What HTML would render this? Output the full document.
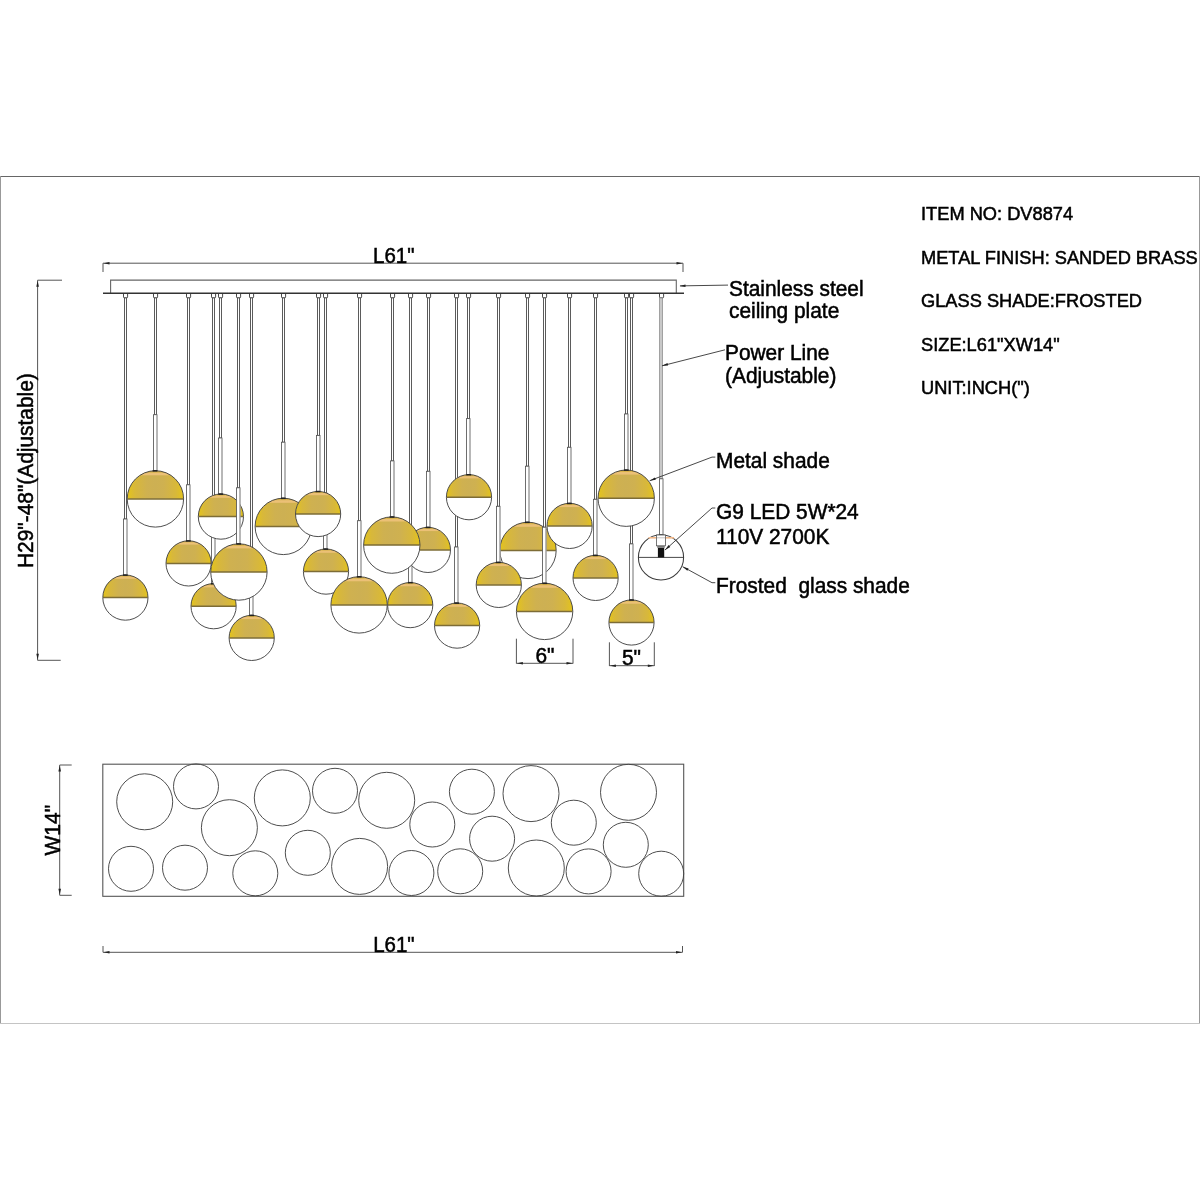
<!DOCTYPE html>
<html><head><meta charset="utf-8"><title>DV8874</title>
<style>
html,body{margin:0;padding:0;background:#fff;}
body{width:1200px;height:1200px;overflow:hidden;}
svg{display:block;will-change:transform;}
text{font-family:"Liberation Sans", sans-serif;fill:#000;stroke:#000;stroke-width:0.5px;}
.cn{fill:#fff;stroke:#333;stroke-width:0.9;}
.cd{fill:#fff;stroke:#4a4a4a;stroke-width:0.9;}
.cdx{fill:#ccc;stroke:#777;stroke-width:0.7;}
.sl{fill:#fff;stroke:#555;stroke-width:0.85;}
.slh{stroke:#b8b8b8;stroke-width:1.0;}
.go{fill:none;stroke:#444;stroke-width:0.95;}
.gw{fill:#fff;stroke:#3a3a3a;stroke-width:1.05;}
.eq{stroke:#7d6c36;stroke-width:1.5;}
.eqx{stroke:#333;stroke-width:0.9;}
.dl{stroke:#555;stroke-width:1;fill:none;}
.bd{stroke:#777;stroke-width:1.3;fill:none;}
.pc{fill:none;stroke:#444;stroke-width:0.95;}
.ld{stroke:#333;stroke-width:0.9;fill:none;}
</style></head><body>
<svg width="1200" height="1200" viewBox="0 0 1200 1200">
<defs>
<linearGradient id="gold" x1="0" y1="0" x2="1" y2="0">
<stop offset="0" stop-color="#e4c41a"/>
<stop offset="0.14" stop-color="#d8b83a"/>
<stop offset="0.35" stop-color="#cfb150"/>
<stop offset="0.5" stop-color="#cdb053"/>
<stop offset="0.65" stop-color="#cfb150"/>
<stop offset="0.86" stop-color="#d8b83a"/>
<stop offset="1" stop-color="#e4c41a"/>
</linearGradient>
</defs>
<rect x="0" y="0" width="1200" height="1200" fill="#fff"/>
<!-- border -->
<rect x="0" y="176" width="1200" height="1" fill="#666"/>
<rect x="0" y="176" width="1" height="848" fill="#999"/>
<rect x="1199" y="176" width="1" height="848" fill="#999"/>
<rect x="0" y="1023" width="1200" height="1" fill="#c4c4c4"/>

<line x1="103" y1="263.2" x2="683" y2="263.2" class="dl"/>
<line x1="103" y1="263.2" x2="103" y2="272" class="dl"/>
<line x1="683" y1="263.2" x2="683" y2="272" class="dl"/>
<path d="M103.5 263.2 L109.5 261.9 L109.5 264.5Z" fill="#222"/>
<path d="M682.5 263.2 L676.5 264.5 L676.5 261.9Z" fill="#222"/>
<text transform="translate(373 262.6) scale(1 1.05)" font-size="20.5">L61"</text>
<path d="M110.6 293.3 V280.1 H676.3 V293.3" fill="#fff" stroke="#666" stroke-width="1.1"/>
<path d="M123.5 293.3 V296.9 Q123.5 297.9 124.5 297.9 H126.6 Q127.6 297.9 127.6 296.9 V293.3" class="cn"/>
<rect x="124.5" y="297.9" width="2" height="221.1" class="cd"/>
<rect x="123.5" y="519.0" width="3.5" height="56.0" class="sl"/>
<line x1="127.0" y1="519.6" x2="127.0" y2="575.0" class="slh"/>
<clipPath id="cA"><circle cx="125.4" cy="597.6" r="22.6"/></clipPath>
<circle cx="125.4" cy="597.6" r="22.6" fill="#fff"/>
<g clip-path="url(#cA)">
<rect x="102.8" y="575.0" width="45.2" height="22.6" fill="url(#gold)"/>
<rect x="102.8" y="575.0" width="45.2" height="1.6" fill="#dcb448"/>
<rect x="102.8" y="576.6" width="45.2" height="2.2" fill="#eec27a" opacity="0.9"/>
</g>
<line x1="103.1" y1="597.6" x2="147.7" y2="597.6" class="eq"/>
<circle cx="125.4" cy="597.6" r="22.6" class="go"/>
<rect x="122.9" y="574.4" width="4.8" height="1.5" fill="#222"/>
<path d="M153.5 293.3 V296.9 Q153.5 297.9 154.5 297.9 H156.6 Q157.6 297.9 157.6 296.9 V293.3" class="cn"/>
<rect x="154.5" y="297.9" width="2" height="116.8" class="cd"/>
<rect x="153.5" y="414.7" width="3.5" height="56.0" class="sl"/>
<line x1="157.0" y1="415.3" x2="157.0" y2="470.7" class="slh"/>
<clipPath id="cB"><circle cx="155.4" cy="498.9" r="28.2"/></clipPath>
<circle cx="155.4" cy="498.9" r="28.2" fill="#fff"/>
<g clip-path="url(#cB)">
<rect x="127.2" y="470.7" width="56.4" height="28.2" fill="url(#gold)"/>
<rect x="127.2" y="470.7" width="56.4" height="2.0" fill="#dcb448"/>
<rect x="127.2" y="472.7" width="56.4" height="2.6" fill="#eec27a" opacity="0.9"/>
</g>
<line x1="127.5" y1="498.9" x2="183.3" y2="498.9" class="eq"/>
<circle cx="155.4" cy="498.9" r="28.2" class="go"/>
<rect x="152.6" y="470.1" width="4.8" height="1.5" fill="#222"/>
<path d="M186.5 293.3 V296.9 Q186.5 297.9 187.5 297.9 H189.6 Q190.6 297.9 190.6 296.9 V293.3" class="cn"/>
<rect x="187.5" y="297.9" width="2" height="186.9" class="cd"/>
<rect x="186.5" y="484.8" width="3.5" height="56.0" class="sl"/>
<line x1="190.0" y1="485.4" x2="190.0" y2="540.8" class="slh"/>
<clipPath id="cC"><circle cx="188.6" cy="563.4" r="22.6"/></clipPath>
<circle cx="188.6" cy="563.4" r="22.6" fill="#fff"/>
<g clip-path="url(#cC)">
<rect x="166.0" y="540.8" width="45.2" height="22.6" fill="url(#gold)"/>
<rect x="166.0" y="540.8" width="45.2" height="1.6" fill="#dcb448"/>
<rect x="166.0" y="542.4" width="45.2" height="2.2" fill="#eec27a" opacity="0.9"/>
</g>
<line x1="166.3" y1="563.4" x2="210.9" y2="563.4" class="eq"/>
<circle cx="188.6" cy="563.4" r="22.6" class="go"/>
<rect x="185.9" y="540.2" width="4.8" height="1.5" fill="#222"/>
<path d="M211.5 293.3 V296.9 Q211.5 297.9 212.5 297.9 H214.6 Q215.6 297.9 215.6 296.9 V293.3" class="cn"/>
<rect x="212.5" y="297.9" width="2" height="229.7" class="cd"/>
<rect x="211.5" y="527.6" width="3.5" height="56.0" class="sl"/>
<line x1="215.0" y1="528.2" x2="215.0" y2="583.6" class="slh"/>
<clipPath id="cF"><circle cx="213.6" cy="606.2" r="22.6"/></clipPath>
<circle cx="213.6" cy="606.2" r="22.6" fill="#fff"/>
<g clip-path="url(#cF)">
<rect x="191.0" y="583.6" width="45.2" height="22.6" fill="url(#gold)"/>
<rect x="191.0" y="583.6" width="45.2" height="1.6" fill="#dcb448"/>
<rect x="191.0" y="585.2" width="45.2" height="2.2" fill="#eec27a" opacity="0.9"/>
</g>
<line x1="191.3" y1="606.2" x2="235.9" y2="606.2" class="eq"/>
<circle cx="213.6" cy="606.2" r="22.6" class="go"/>
<rect x="210.9" y="583.0" width="4.8" height="1.5" fill="#222"/>
<path d="M218.5 293.3 V296.9 Q218.5 297.9 219.5 297.9 H221.6 Q222.6 297.9 222.6 296.9 V293.3" class="cn"/>
<rect x="219.5" y="297.9" width="2" height="140.1" class="cd"/>
<rect x="218.5" y="438.0" width="3.5" height="56.0" class="sl"/>
<line x1="222.0" y1="438.6" x2="222.0" y2="494.0" class="slh"/>
<clipPath id="cD"><circle cx="220.9" cy="516.6" r="22.6"/></clipPath>
<circle cx="220.9" cy="516.6" r="22.6" fill="#fff"/>
<g clip-path="url(#cD)">
<rect x="198.3" y="494.0" width="45.2" height="22.6" fill="url(#gold)"/>
<rect x="198.3" y="494.0" width="45.2" height="1.6" fill="#dcb448"/>
<rect x="198.3" y="495.6" width="45.2" height="2.2" fill="#eec27a" opacity="0.9"/>
</g>
<line x1="198.6" y1="516.6" x2="243.2" y2="516.6" class="eq"/>
<circle cx="220.9" cy="516.6" r="22.6" class="go"/>
<rect x="218.4" y="493.4" width="4.8" height="1.5" fill="#222"/>
<path d="M249.5 293.3 V296.9 Q249.5 297.9 250.5 297.9 H252.6 Q253.6 297.9 253.6 296.9 V293.3" class="cn"/>
<rect x="250.5" y="297.9" width="2" height="261.4" class="cd"/>
<rect x="249.5" y="559.3" width="3.5" height="56.0" class="sl"/>
<line x1="253.0" y1="559.9" x2="253.0" y2="615.3" class="slh"/>
<clipPath id="cG"><circle cx="251.7" cy="637.9" r="22.6"/></clipPath>
<circle cx="251.7" cy="637.9" r="22.6" fill="#fff"/>
<g clip-path="url(#cG)">
<rect x="229.1" y="615.3" width="45.2" height="22.6" fill="url(#gold)"/>
<rect x="229.1" y="615.3" width="45.2" height="1.6" fill="#dcb448"/>
<rect x="229.1" y="616.9" width="45.2" height="2.2" fill="#eec27a" opacity="0.9"/>
</g>
<line x1="229.4" y1="637.9" x2="274.0" y2="637.9" class="eq"/>
<circle cx="251.7" cy="637.9" r="22.6" class="go"/>
<rect x="249.3" y="614.7" width="4.8" height="1.5" fill="#222"/>
<path d="M236.5 293.3 V296.9 Q236.5 297.9 237.5 297.9 H239.6 Q240.6 297.9 240.6 296.9 V293.3" class="cn"/>
<rect x="237.5" y="297.9" width="2" height="189.9" class="cd"/>
<rect x="236.5" y="487.8" width="3.5" height="56.0" class="sl"/>
<line x1="240.0" y1="488.4" x2="240.0" y2="543.8" class="slh"/>
<clipPath id="cE"><circle cx="238.9" cy="572.0" r="28.2"/></clipPath>
<circle cx="238.9" cy="572.0" r="28.2" fill="#fff"/>
<g clip-path="url(#cE)">
<rect x="210.7" y="543.8" width="56.4" height="28.2" fill="url(#gold)"/>
<rect x="210.7" y="543.8" width="56.4" height="2.0" fill="#dcb448"/>
<rect x="210.7" y="545.8" width="56.4" height="2.6" fill="#eec27a" opacity="0.9"/>
</g>
<line x1="211.0" y1="572.0" x2="266.8" y2="572.0" class="eq"/>
<circle cx="238.9" cy="572.0" r="28.2" class="go"/>
<rect x="236.3" y="543.2" width="4.8" height="1.5" fill="#222"/>
<path d="M281.5 293.3 V296.9 Q281.5 297.9 282.5 297.9 H284.6 Q285.6 297.9 285.6 296.9 V293.3" class="cn"/>
<rect x="282.5" y="297.9" width="2" height="144.3" class="cd"/>
<rect x="281.5" y="442.2" width="3.5" height="56.0" class="sl"/>
<line x1="285.0" y1="442.8" x2="285.0" y2="498.2" class="slh"/>
<clipPath id="cH"><circle cx="283.3" cy="526.4" r="28.2"/></clipPath>
<circle cx="283.3" cy="526.4" r="28.2" fill="#fff"/>
<g clip-path="url(#cH)">
<rect x="255.1" y="498.2" width="56.4" height="28.2" fill="url(#gold)"/>
<rect x="255.1" y="498.2" width="56.4" height="2.0" fill="#dcb448"/>
<rect x="255.1" y="500.2" width="56.4" height="2.6" fill="#eec27a" opacity="0.9"/>
</g>
<line x1="255.4" y1="526.4" x2="311.2" y2="526.4" class="eq"/>
<circle cx="283.3" cy="526.4" r="28.2" class="go"/>
<rect x="280.9" y="497.6" width="4.8" height="1.5" fill="#222"/>
<path d="M323.5 293.3 V296.9 Q323.5 297.9 324.5 297.9 H326.6 Q327.6 297.9 327.6 296.9 V293.3" class="cn"/>
<rect x="324.5" y="297.9" width="2" height="195.1" class="cd"/>
<rect x="323.5" y="493.0" width="3.5" height="56.0" class="sl"/>
<line x1="327.0" y1="493.6" x2="327.0" y2="549.0" class="slh"/>
<clipPath id="cJ"><circle cx="326.0" cy="571.6" r="22.6"/></clipPath>
<circle cx="326.0" cy="571.6" r="22.6" fill="#fff"/>
<g clip-path="url(#cJ)">
<rect x="303.4" y="549.0" width="45.2" height="22.6" fill="url(#gold)"/>
<rect x="303.4" y="549.0" width="45.2" height="1.6" fill="#dcb448"/>
<rect x="303.4" y="550.6" width="45.2" height="2.2" fill="#eec27a" opacity="0.9"/>
</g>
<line x1="303.7" y1="571.6" x2="348.3" y2="571.6" class="eq"/>
<circle cx="326.0" cy="571.6" r="22.6" class="go"/>
<rect x="323.4" y="548.4" width="4.8" height="1.5" fill="#222"/>
<path d="M316.5 293.3 V296.9 Q316.5 297.9 317.5 297.9 H319.6 Q320.6 297.9 320.6 296.9 V293.3" class="cn"/>
<rect x="317.5" y="297.9" width="2" height="137.5" class="cd"/>
<rect x="316.5" y="435.4" width="3.5" height="56.0" class="sl"/>
<line x1="320.0" y1="436.0" x2="320.0" y2="491.4" class="slh"/>
<clipPath id="cI"><circle cx="318.1" cy="514.0" r="22.6"/></clipPath>
<circle cx="318.1" cy="514.0" r="22.6" fill="#fff"/>
<g clip-path="url(#cI)">
<rect x="295.5" y="491.4" width="45.2" height="22.6" fill="url(#gold)"/>
<rect x="295.5" y="491.4" width="45.2" height="1.6" fill="#dcb448"/>
<rect x="295.5" y="493.0" width="45.2" height="2.2" fill="#eec27a" opacity="0.9"/>
</g>
<line x1="295.8" y1="514.0" x2="340.4" y2="514.0" class="eq"/>
<circle cx="318.1" cy="514.0" r="22.6" class="go"/>
<rect x="315.6" y="490.8" width="4.8" height="1.5" fill="#222"/>
<path d="M357.5 293.3 V296.9 Q357.5 297.9 358.5 297.9 H360.6 Q361.6 297.9 361.6 296.9 V293.3" class="cn"/>
<rect x="358.5" y="297.9" width="2" height="222.8" class="cd"/>
<rect x="357.5" y="520.7" width="3.5" height="56.0" class="sl"/>
<line x1="361.0" y1="521.3" x2="361.0" y2="576.7" class="slh"/>
<clipPath id="cK"><circle cx="359.1" cy="604.9" r="28.2"/></clipPath>
<circle cx="359.1" cy="604.9" r="28.2" fill="#fff"/>
<g clip-path="url(#cK)">
<rect x="330.9" y="576.7" width="56.4" height="28.2" fill="url(#gold)"/>
<rect x="330.9" y="576.7" width="56.4" height="2.0" fill="#dcb448"/>
<rect x="330.9" y="578.7" width="56.4" height="2.6" fill="#eec27a" opacity="0.9"/>
</g>
<line x1="331.2" y1="604.9" x2="387.0" y2="604.9" class="eq"/>
<circle cx="359.1" cy="604.9" r="28.2" class="go"/>
<rect x="356.8" y="576.1" width="4.8" height="1.5" fill="#222"/>
<path d="M408.5 293.3 V296.9 Q408.5 297.9 409.5 297.9 H411.6 Q412.6 297.9 412.6 296.9 V293.3" class="cn"/>
<rect x="409.5" y="297.9" width="2" height="228.6" class="cd"/>
<rect x="408.5" y="526.5" width="3.5" height="56.0" class="sl"/>
<line x1="412.0" y1="527.1" x2="412.0" y2="582.5" class="slh"/>
<clipPath id="cM"><circle cx="410.2" cy="605.1" r="22.6"/></clipPath>
<circle cx="410.2" cy="605.1" r="22.6" fill="#fff"/>
<g clip-path="url(#cM)">
<rect x="387.6" y="582.5" width="45.2" height="22.6" fill="url(#gold)"/>
<rect x="387.6" y="582.5" width="45.2" height="1.6" fill="#dcb448"/>
<rect x="387.6" y="584.1" width="45.2" height="2.2" fill="#eec27a" opacity="0.9"/>
</g>
<line x1="387.9" y1="605.1" x2="432.5" y2="605.1" class="eq"/>
<circle cx="410.2" cy="605.1" r="22.6" class="go"/>
<rect x="407.9" y="581.9" width="4.8" height="1.5" fill="#222"/>
<path d="M426.5 293.3 V296.9 Q426.5 297.9 427.5 297.9 H429.6 Q430.6 297.9 430.6 296.9 V293.3" class="cn"/>
<rect x="427.5" y="297.9" width="2" height="173.4" class="cd"/>
<rect x="426.5" y="471.3" width="3.5" height="56.0" class="sl"/>
<line x1="430.0" y1="471.9" x2="430.0" y2="527.3" class="slh"/>
<clipPath id="cN"><circle cx="427.9" cy="549.9" r="22.6"/></clipPath>
<circle cx="427.9" cy="549.9" r="22.6" fill="#fff"/>
<g clip-path="url(#cN)">
<rect x="405.3" y="527.3" width="45.2" height="22.6" fill="url(#gold)"/>
<rect x="405.3" y="527.3" width="45.2" height="1.6" fill="#dcb448"/>
<rect x="405.3" y="528.9" width="45.2" height="2.2" fill="#eec27a" opacity="0.9"/>
</g>
<line x1="405.6" y1="549.9" x2="450.2" y2="549.9" class="eq"/>
<circle cx="427.9" cy="549.9" r="22.6" class="go"/>
<rect x="425.6" y="526.7" width="4.8" height="1.5" fill="#222"/>
<path d="M390.5 293.3 V296.9 Q390.5 297.9 391.5 297.9 H393.6 Q394.6 297.9 394.6 296.9 V293.3" class="cn"/>
<rect x="391.5" y="297.9" width="2" height="163.0" class="cd"/>
<rect x="390.5" y="460.9" width="3.5" height="56.0" class="sl"/>
<line x1="394.0" y1="461.5" x2="394.0" y2="516.9" class="slh"/>
<clipPath id="cL"><circle cx="391.8" cy="545.1" r="28.2"/></clipPath>
<circle cx="391.8" cy="545.1" r="28.2" fill="#fff"/>
<g clip-path="url(#cL)">
<rect x="363.6" y="516.9" width="56.4" height="28.2" fill="url(#gold)"/>
<rect x="363.6" y="516.9" width="56.4" height="2.0" fill="#dcb448"/>
<rect x="363.6" y="518.9" width="56.4" height="2.6" fill="#eec27a" opacity="0.9"/>
</g>
<line x1="363.9" y1="545.1" x2="419.7" y2="545.1" class="eq"/>
<circle cx="391.8" cy="545.1" r="28.2" class="go"/>
<rect x="389.6" y="516.3" width="4.8" height="1.5" fill="#222"/>
<path d="M454.5 293.3 V296.9 Q454.5 297.9 455.5 297.9 H457.6 Q458.6 297.9 458.6 296.9 V293.3" class="cn"/>
<rect x="455.5" y="297.9" width="2" height="249.1" class="cd"/>
<rect x="454.5" y="547.0" width="3.5" height="56.0" class="sl"/>
<line x1="458.0" y1="547.6" x2="458.0" y2="603.0" class="slh"/>
<clipPath id="cO"><circle cx="457.1" cy="625.6" r="22.6"/></clipPath>
<circle cx="457.1" cy="625.6" r="22.6" fill="#fff"/>
<g clip-path="url(#cO)">
<rect x="434.5" y="603.0" width="45.2" height="22.6" fill="url(#gold)"/>
<rect x="434.5" y="603.0" width="45.2" height="1.6" fill="#dcb448"/>
<rect x="434.5" y="604.6" width="45.2" height="2.2" fill="#eec27a" opacity="0.9"/>
</g>
<line x1="434.8" y1="625.6" x2="479.4" y2="625.6" class="eq"/>
<circle cx="457.1" cy="625.6" r="22.6" class="go"/>
<rect x="454.3" y="602.4" width="4.8" height="1.5" fill="#222"/>
<path d="M466.5 293.3 V296.9 Q466.5 297.9 467.5 297.9 H469.6 Q470.6 297.9 470.6 296.9 V293.3" class="cn"/>
<rect x="467.5" y="297.9" width="2" height="120.7" class="cd"/>
<rect x="466.5" y="418.6" width="3.5" height="56.0" class="sl"/>
<line x1="470.0" y1="419.2" x2="470.0" y2="474.6" class="slh"/>
<clipPath id="cP"><circle cx="469.0" cy="497.2" r="22.6"/></clipPath>
<circle cx="469.0" cy="497.2" r="22.6" fill="#fff"/>
<g clip-path="url(#cP)">
<rect x="446.4" y="474.6" width="45.2" height="22.6" fill="url(#gold)"/>
<rect x="446.4" y="474.6" width="45.2" height="1.6" fill="#dcb448"/>
<rect x="446.4" y="476.2" width="45.2" height="2.2" fill="#eec27a" opacity="0.9"/>
</g>
<line x1="446.7" y1="497.2" x2="491.3" y2="497.2" class="eq"/>
<circle cx="469.0" cy="497.2" r="22.6" class="go"/>
<rect x="466.3" y="474.0" width="4.8" height="1.5" fill="#222"/>
<path d="M525.5 293.3 V296.9 Q525.5 297.9 526.5 297.9 H528.6 Q529.6 297.9 529.6 296.9 V293.3" class="cn"/>
<rect x="526.5" y="297.9" width="2" height="168.3" class="cd"/>
<rect x="525.5" y="466.2" width="3.5" height="56.0" class="sl"/>
<line x1="529.0" y1="466.8" x2="529.0" y2="522.2" class="slh"/>
<clipPath id="cR"><circle cx="528.0" cy="550.4" r="28.2"/></clipPath>
<circle cx="528.0" cy="550.4" r="28.2" fill="#fff"/>
<g clip-path="url(#cR)">
<rect x="499.8" y="522.2" width="56.4" height="28.2" fill="url(#gold)"/>
<rect x="499.8" y="522.2" width="56.4" height="2.0" fill="#dcb448"/>
<rect x="499.8" y="524.2" width="56.4" height="2.6" fill="#eec27a" opacity="0.9"/>
</g>
<line x1="500.1" y1="550.4" x2="555.9" y2="550.4" class="eq"/>
<circle cx="528.0" cy="550.4" r="28.2" class="go"/>
<rect x="524.9" y="521.6" width="4.8" height="1.5" fill="#222"/>
<path d="M496.5 293.3 V296.9 Q496.5 297.9 497.5 297.9 H499.6 Q500.6 297.9 500.6 296.9 V293.3" class="cn"/>
<rect x="497.5" y="297.9" width="2" height="208.4" class="cd"/>
<rect x="496.5" y="506.3" width="3.5" height="56.0" class="sl"/>
<line x1="500.0" y1="506.9" x2="500.0" y2="562.3" class="slh"/>
<clipPath id="cQ"><circle cx="498.8" cy="584.9" r="22.6"/></clipPath>
<circle cx="498.8" cy="584.9" r="22.6" fill="#fff"/>
<g clip-path="url(#cQ)">
<rect x="476.2" y="562.3" width="45.2" height="22.6" fill="url(#gold)"/>
<rect x="476.2" y="562.3" width="45.2" height="1.6" fill="#dcb448"/>
<rect x="476.2" y="563.9" width="45.2" height="2.2" fill="#eec27a" opacity="0.9"/>
</g>
<line x1="476.5" y1="584.9" x2="521.1" y2="584.9" class="eq"/>
<circle cx="498.8" cy="584.9" r="22.6" class="go"/>
<rect x="495.9" y="561.7" width="4.8" height="1.5" fill="#222"/>
<path d="M542.5 293.3 V296.9 Q542.5 297.9 543.5 297.9 H545.6 Q546.6 297.9 546.6 296.9 V293.3" class="cn"/>
<rect x="543.5" y="297.9" width="2" height="229.3" class="cd"/>
<rect x="542.5" y="527.2" width="3.5" height="56.0" class="sl"/>
<line x1="546.0" y1="527.8" x2="546.0" y2="583.2" class="slh"/>
<clipPath id="cS"><circle cx="544.6" cy="611.4" r="28.2"/></clipPath>
<circle cx="544.6" cy="611.4" r="28.2" fill="#fff"/>
<g clip-path="url(#cS)">
<rect x="516.4" y="583.2" width="56.4" height="28.2" fill="url(#gold)"/>
<rect x="516.4" y="583.2" width="56.4" height="2.0" fill="#dcb448"/>
<rect x="516.4" y="585.2" width="56.4" height="2.6" fill="#eec27a" opacity="0.9"/>
</g>
<line x1="516.7" y1="611.4" x2="572.5" y2="611.4" class="eq"/>
<circle cx="544.6" cy="611.4" r="28.2" class="go"/>
<rect x="542.4" y="582.6" width="4.8" height="1.5" fill="#222"/>
<path d="M567.5 293.3 V296.9 Q567.5 297.9 568.5 297.9 H570.6 Q571.6 297.9 571.6 296.9 V293.3" class="cn"/>
<rect x="568.5" y="297.9" width="2" height="149.4" class="cd"/>
<rect x="567.5" y="447.3" width="3.5" height="56.0" class="sl"/>
<line x1="571.0" y1="447.9" x2="571.0" y2="503.3" class="slh"/>
<clipPath id="cT"><circle cx="569.6" cy="525.9" r="22.6"/></clipPath>
<circle cx="569.6" cy="525.9" r="22.6" fill="#fff"/>
<g clip-path="url(#cT)">
<rect x="547.0" y="503.3" width="45.2" height="22.6" fill="url(#gold)"/>
<rect x="547.0" y="503.3" width="45.2" height="1.6" fill="#dcb448"/>
<rect x="547.0" y="504.9" width="45.2" height="2.2" fill="#eec27a" opacity="0.9"/>
</g>
<line x1="547.3" y1="525.9" x2="591.9" y2="525.9" class="eq"/>
<circle cx="569.6" cy="525.9" r="22.6" class="go"/>
<rect x="567.0" y="502.7" width="4.8" height="1.5" fill="#222"/>
<path d="M593.5 293.3 V296.9 Q593.5 297.9 594.5 297.9 H596.6 Q597.6 297.9 597.6 296.9 V293.3" class="cn"/>
<rect x="594.5" y="297.9" width="2" height="201.4" class="cd"/>
<rect x="593.5" y="499.3" width="3.5" height="56.0" class="sl"/>
<line x1="597.0" y1="499.9" x2="597.0" y2="555.3" class="slh"/>
<clipPath id="cU"><circle cx="595.6" cy="577.9" r="22.6"/></clipPath>
<circle cx="595.6" cy="577.9" r="22.6" fill="#fff"/>
<g clip-path="url(#cU)">
<rect x="573.0" y="555.3" width="45.2" height="22.6" fill="url(#gold)"/>
<rect x="573.0" y="555.3" width="45.2" height="1.6" fill="#dcb448"/>
<rect x="573.0" y="556.9" width="45.2" height="2.2" fill="#eec27a" opacity="0.9"/>
</g>
<line x1="573.3" y1="577.9" x2="617.9" y2="577.9" class="eq"/>
<circle cx="595.6" cy="577.9" r="22.6" class="go"/>
<rect x="593.0" y="554.7" width="4.8" height="1.5" fill="#222"/>
<path d="M629.5 293.3 V296.9 Q629.5 297.9 630.5 297.9 H632.6 Q633.6 297.9 633.6 296.9 V293.3" class="cn"/>
<rect x="630.5" y="297.9" width="2" height="246.0" class="cd"/>
<rect x="629.5" y="543.9" width="3.5" height="56.0" class="sl"/>
<line x1="633.0" y1="544.5" x2="633.0" y2="599.9" class="slh"/>
<clipPath id="cW"><circle cx="631.5" cy="622.5" r="22.6"/></clipPath>
<circle cx="631.5" cy="622.5" r="22.6" fill="#fff"/>
<g clip-path="url(#cW)">
<rect x="608.9" y="599.9" width="45.2" height="22.6" fill="url(#gold)"/>
<rect x="608.9" y="599.9" width="45.2" height="1.6" fill="#dcb448"/>
<rect x="608.9" y="601.5" width="45.2" height="2.2" fill="#eec27a" opacity="0.9"/>
</g>
<line x1="609.2" y1="622.5" x2="653.8" y2="622.5" class="eq"/>
<circle cx="631.5" cy="622.5" r="22.6" class="go"/>
<rect x="629.1" y="599.3" width="4.8" height="1.5" fill="#222"/>
<path d="M624.5 293.3 V296.9 Q624.5 297.9 625.5 297.9 H627.6 Q628.6 297.9 628.6 296.9 V293.3" class="cn"/>
<rect x="625.5" y="297.9" width="2" height="116.1" class="cd"/>
<rect x="624.5" y="414.0" width="3.5" height="56.0" class="sl"/>
<line x1="628.0" y1="414.6" x2="628.0" y2="470.0" class="slh"/>
<clipPath id="cV"><circle cx="626.2" cy="498.2" r="28.2"/></clipPath>
<circle cx="626.2" cy="498.2" r="28.2" fill="#fff"/>
<g clip-path="url(#cV)">
<rect x="598.0" y="470.0" width="56.4" height="28.2" fill="url(#gold)"/>
<rect x="598.0" y="470.0" width="56.4" height="2.0" fill="#dcb448"/>
<rect x="598.0" y="472.0" width="56.4" height="2.6" fill="#eec27a" opacity="0.9"/>
</g>
<line x1="598.3" y1="498.2" x2="654.1" y2="498.2" class="eq"/>
<circle cx="626.2" cy="498.2" r="28.2" class="go"/>
<rect x="623.9" y="469.4" width="4.8" height="1.5" fill="#222"/>
<path d="M659.5 293.3 V296.9 Q659.5 297.9 660.5 297.9 H662.6 Q663.6 297.9 663.6 296.9 V293.3" class="cn"/>
<rect x="659.7" y="297.9" width="2.6" height="180.9" class="cdx"/>
<rect x="659.5" y="478.8" width="3.5" height="56.0" class="sl"/>
<line x1="663.0" y1="479.4" x2="663.0" y2="534.8" class="slh"/>
<circle cx="661.0" cy="557.4" r="22.6" class="gw"/>
<line x1="638.4" y1="557.4" x2="683.6" y2="557.4" class="eqx"/>
<line x1="648.5" y1="537.8" x2="674.0" y2="537.8" stroke="#f3b98a" stroke-width="1.6"/>
<rect x="656.6" y="535.0" width="8.8" height="10.8" fill="#fff" stroke="#555" stroke-width="0.8"/>
<line x1="656.6" y1="537.8" x2="665.4" y2="537.8" stroke="#999" stroke-width="0.6"/>
<rect x="657.9" y="547.8" width="6.3" height="9.6" fill="#111"/>
<rect x="657.2" y="545.8" width="7.6" height="2" fill="#777"/>
<line x1="103" y1="293.3" x2="684" y2="293.3" stroke="#333" stroke-width="1.6"/>
<line x1="680" y1="285.9" x2="728" y2="285.1" class="ld"/>
<path d="M679.5 285.9 L685.5 284.5 L685.5 287.1Z" fill="#222"/>
<text transform="translate(729 295.8) scale(1 1.05)" font-size="20.9">Stainless steel</text>
<text transform="translate(729 318.3) scale(1 1.05)" font-size="20.9">ceiling plate</text>
<line x1="662" y1="365.8" x2="725" y2="349.8" class="ld"/>
<path d="M662.0 365.8 L667.5 363.1 L668.1 365.6Z" fill="#222"/>
<text transform="translate(725 360) scale(1 1.05)" font-size="20.9">Power Line</text>
<text transform="translate(725 383.3) scale(1 1.05)" font-size="20.9">(Adjustable)</text>
<path d="M649.7 480.7 L712 457.1 H715.3" class="ld"/>
<path d="M649.7 480.7 L654.9 477.4 L655.8 479.8Z" fill="#222"/>
<text transform="translate(716 467.9) scale(1 1.05)" font-size="20.9">Metal shade</text>
<path d="M665 550 L712 508 H715.3" class="ld"/>
<path d="M665.0 550.0 L668.6 545.0 L670.3 547.0Z" fill="#222"/>
<text transform="translate(716 518.5) scale(1 1.05)" font-size="20.9">G9 LED 5W*24</text>
<text transform="translate(716 543.6) scale(1 1.05)" font-size="20.9">110V 2700K</text>
<path d="M682.7 566.7 L712 582.7 H715.3" class="ld"/>
<path d="M682.7 566.7 L688.6 568.4 L687.3 570.7Z" fill="#222"/>
<text transform="translate(716 593.1) scale(1 1.05)" font-size="20.9" xml:space="preserve">Frosted  glass shade</text>
<text transform="translate(921 220.2) scale(1 1.05)" font-size="18.25">ITEM NO: DV8874</text>
<text transform="translate(921 263.7) scale(1 1.05)" font-size="18.25">METAL FINISH: SANDED BRASS</text>
<text transform="translate(921 307.2) scale(1 1.05)" font-size="18.25">GLASS SHADE:FROSTED</text>
<text transform="translate(921 350.7) scale(1 1.05)" font-size="18.25">SIZE:L61"XW14"</text>
<text transform="translate(921 394.2) scale(1 1.05)" font-size="18.25">UNIT:INCH(")</text>
<line x1="37.6" y1="280.2" x2="37.6" y2="660.3" class="dl"/>
<line x1="37.6" y1="280.2" x2="62" y2="280.2" class="dl"/>
<line x1="37.6" y1="660.3" x2="60.7" y2="660.3" class="dl"/>
<path d="M37.6 280.7 L38.9 286.7 L36.3 286.7Z" fill="#222"/>
<path d="M37.6 659.8 L36.3 653.8 L38.9 653.8Z" fill="#222"/>
<text transform="translate(33.2 568) rotate(-90) scale(1 1.05)" font-size="20.9">H29"-48"(Adjustable)</text>
<line x1="516.4" y1="638.7" x2="516.4" y2="663.6" class="dl"/>
<line x1="573" y1="638.7" x2="573" y2="663.6" class="dl"/>
<line x1="516.4" y1="663.3" x2="573" y2="663.3" class="dl"/>
<path d="M516.9 663.3 L522.9 662.0 L522.9 664.6Z" fill="#222"/>
<path d="M572.5 663.3 L566.5 664.6 L566.5 662.0Z" fill="#222"/>
<text transform="translate(535.5 662.7) scale(1 1.05)" font-size="20.9">6"</text>
<line x1="609.4" y1="642.3" x2="609.4" y2="666" class="dl"/>
<line x1="654.3" y1="642.3" x2="654.3" y2="666" class="dl"/>
<line x1="609.4" y1="665.7" x2="654.3" y2="665.7" class="dl"/>
<path d="M609.9 665.7 L615.9 664.4 L615.9 667.0Z" fill="#222"/>
<path d="M653.8 665.7 L647.8 667.0 L647.8 664.4Z" fill="#222"/>
<text transform="translate(622 665) scale(1 1.05)" font-size="20.9">5"</text>
<rect x="102.8" y="764.2" width="580.9" height="132.1" fill="none" stroke="#555" stroke-width="1.1"/>
<circle cx="144.7" cy="801.8" r="28" class="pc"/>
<circle cx="196.0" cy="786.4" r="22.5" class="pc"/>
<circle cx="229.4" cy="827.7" r="28" class="pc"/>
<circle cx="131.0" cy="868.8" r="22.5" class="pc"/>
<circle cx="185.0" cy="867.7" r="22.5" class="pc"/>
<circle cx="282.3" cy="797.9" r="28" class="pc"/>
<circle cx="255.3" cy="873.3" r="22.5" class="pc"/>
<circle cx="335.0" cy="790.8" r="22.5" class="pc"/>
<circle cx="307.8" cy="852.8" r="22.5" class="pc"/>
<circle cx="386.7" cy="800.3" r="28" class="pc"/>
<circle cx="359.6" cy="866.4" r="28" class="pc"/>
<circle cx="432.3" cy="824.5" r="22.5" class="pc"/>
<circle cx="411.4" cy="873.0" r="22.5" class="pc"/>
<circle cx="471.9" cy="791.7" r="22.5" class="pc"/>
<circle cx="460.2" cy="871.3" r="22.5" class="pc"/>
<circle cx="492.1" cy="838.7" r="22.5" class="pc"/>
<circle cx="531.0" cy="793.6" r="28" class="pc"/>
<circle cx="536.3" cy="868.0" r="28" class="pc"/>
<circle cx="573.8" cy="822.7" r="22.5" class="pc"/>
<circle cx="588.6" cy="871.4" r="22.5" class="pc"/>
<circle cx="628.5" cy="792.3" r="28" class="pc"/>
<circle cx="625.8" cy="844.8" r="22.5" class="pc"/>
<circle cx="661.2" cy="873.7" r="22.5" class="pc"/>
<line x1="59.7" y1="765" x2="59.7" y2="895.3" class="dl"/>
<line x1="59.7" y1="765" x2="71.7" y2="765" class="dl"/>
<line x1="59.7" y1="895.3" x2="71.7" y2="895.3" class="dl"/>
<path d="M59.7 765.5 L61.0 771.5 L58.4 771.5Z" fill="#222"/>
<path d="M59.7 894.8 L58.4 888.8 L61.0 888.8Z" fill="#222"/>
<text transform="translate(60 855.5) rotate(-90) scale(1 1.05)" font-size="21">W14"</text>
<line x1="103" y1="952.3" x2="682.5" y2="952.3" class="dl"/>
<line x1="103" y1="946" x2="103" y2="952.3" class="dl"/>
<line x1="682.5" y1="946" x2="682.5" y2="952.3" class="dl"/>
<path d="M103.5 952.3 L109.5 951.0 L109.5 953.6Z" fill="#222"/>
<path d="M682.0 952.3 L676.0 953.6 L676.0 951.0Z" fill="#222"/>
<text transform="translate(373.2 952) scale(1 1.05)" font-size="20.5">L61"</text>
</svg></body></html>
